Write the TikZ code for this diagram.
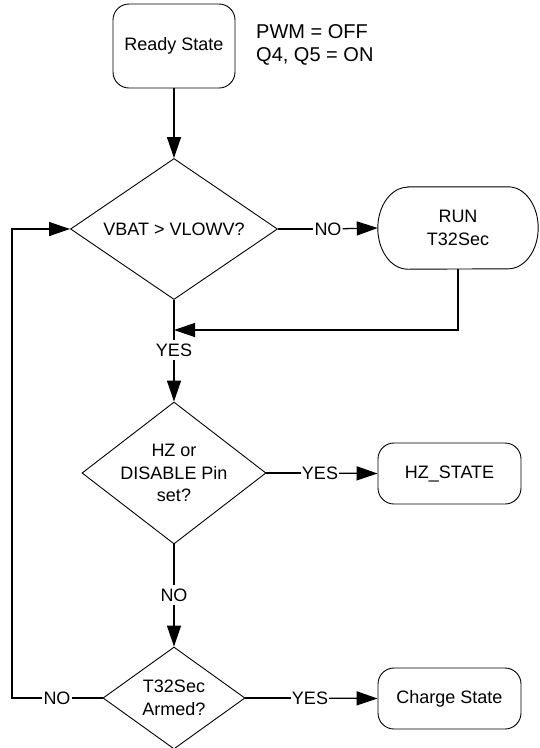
\documentclass[tikz,border=0pt]{standalone}
\usepackage{fontspec}
\setmainfont{Liberation Sans}
\usetikzlibrary{shapes.geometric,arrows.meta}
\begin{document}
\begin{tikzpicture}[x=1pt,y=1pt,
  txt/.style={font=\fontsize{18}{22.5}\selectfont, align=center},
  box/.style={txt, draw, rounded corners=16pt, line width=0.9pt, inner sep=0pt},
  dec/.style={txt, draw, diamond, line width=0.9pt, inner sep=0pt},
  ln/.style={line width=1.3pt},
  arr/.style={line width=1.3pt, -{Triangle[length=21pt,width=14pt]}},
  lbl/.style={txt, fill=white, inner xsep=1pt, inner ysep=3pt}]
\useasboundingbox (0,0) rectangle (540,-748);

% nodes
\node[box, minimum width=122pt, minimum height=84pt] (ready) at (174,-46) {Ready State};
\node[font=\fontsize{20}{23}\selectfont, align=left, anchor=west, inner sep=0pt] (pwm) at (256,-45) {PWM = OFF\\Q4, Q5 = ON};

\node[dec, shape aspect=1.47, minimum width=207pt, minimum height=141pt] (d1) at (174,-229) {VBAT > VLOWV?};
\node[txt, minimum width=160pt, minimum height=82pt, inner sep=0pt] (run) at (458,-228) {RUN\\T32Sec};
\draw[line width=0.9pt] ([xshift=30pt]run.north west) -- ([xshift=-30pt]run.north east)
  arc[start angle=90, end angle=-90, x radius=30pt, y radius=41pt]
  -- ([xshift=30pt]run.south west)
  arc[start angle=270, end angle=90, x radius=30pt, y radius=41pt] -- cycle;

\node[lbl] (no1) at (328,-229) {NO};
\node[lbl] (yes1) at (174,-350) {YES};
\coordinate (m) at (174,-330);

\node[dec, shape aspect=1.3, minimum width=184pt, minimum height=142pt] (d2) at (174,-473) {HZ or\\DISABLE Pin\\set?};
\node[box, minimum width=143pt, minimum height=61pt] (hz) at (449.5,-473.5) {HZ\_STATE};
\node[lbl] (yes2) at (320,-473) {YES};
\node[lbl] (no2) at (174,-595) {NO};

\node[dec, shape aspect=1.39, minimum width=142pt, minimum height=102pt] (d3) at (174,-698) {T32Sec\\Armed?};
\node[box, minimum width=143pt, minimum height=61pt] (charge) at (449.5,-698.5) {Charge State};
\node[lbl] (yes3) at (310,-698) {YES};
\node[lbl] (no3) at (57,-698) {NO};
\coordinate (lc) at (12,-229);

% connectors
\draw[arr] (ready) -- (d1);
\draw[ln] (d1.east) -- (no1);
\draw[arr] (no1) -- (run.west);
\draw[arr] (run.south) |- (m);
\draw[ln] (d1.south) -- (yes1);
\draw[arr] (yes1) -- (d2.north);
\draw[ln] (d2.east) -- (yes2);
\draw[arr] (yes2) -- (hz.west);
\draw[ln] (d2.south) -- (no2);
\draw[arr] (no2) -- (d3.north);
\draw[ln] (d3.east) -- (yes3);
\draw[arr] (yes3) -- (charge.west);
\draw[ln] (d3.west) -- (no3);
\draw[arr] (no3) -| (lc) -- (d1.west);
\end{tikzpicture}
\end{document}
